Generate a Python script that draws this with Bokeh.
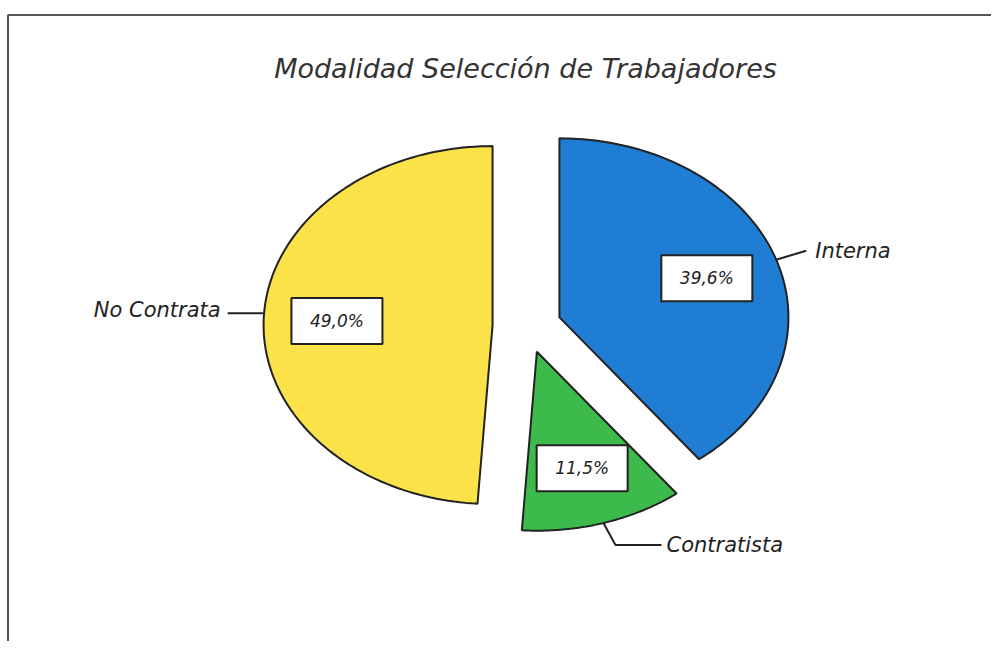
import numpy as np
from bokeh.plotting import figure
from bokeh.models import Range1d
from bokeh.core.properties import value
from bokeh.embed import file_html
from bokeh.resources import INLINE

# ---- data ----
title_text = "Modalidad Selección de Trabajadores"
categories = ["Interna", "Contratista", "No Contrata"]
percents = [39.6, 11.5, 49.0]
pct_labels = ["39,6%", "11,5%", "49,0%"]
colors = ["#1f7dd4", "#3dba4c", "#fbe248"]

# ---- layout constants (pixels) ----
W, H = 991, 641
OX, OY = 0, 0                   # where the figure lands in the picture
PX_X, PX_Y = 229.0, 179.0       # pixels per unit radius (elliptical pie)
CX, CY = 526.4, 325.5           # pie centre in picture pixels
EXPLODE = 0.15
LABEL_R = 0.68

def dx(img_x):
    return (img_x - CX) / PX_X

def dy(img_y):
    return (CY - img_y) / PX_Y

p = figure(width=W, height=H, output_backend="svg", toolbar_location=None,
           x_range=Range1d(dx(OX), dx(OX + W)), y_range=Range1d(dy(OY + H), dy(OY)),
           x_axis_location=None, y_axis_location=None, min_border=0,
           background_fill_color="white", border_fill_color="white")
p.grid.visible = False
p.outline_line_color = None

# frame border (left & top visible in reference)
p.line([dx(7.5), dx(7.5), dx(1200)], [dy(900), dy(14.5), dy(14.5)], line_color="#555555", line_width=2)

# title
p.text([dx(525)], [dy(68)], text=[title_text], text_font=value("DejaVu Sans"),
       text_font_style="italic", text_font_size="27px", text_color="#333333",
       text_align="center", text_baseline="middle")

total = sum(percents)
frac = np.array(percents) / total
ends = np.cumsum(frac) * 2 * np.pi
starts = ends - frac * 2 * np.pi

xs, ys = [], []
lab_x, lab_y = [], []
mids = []
apexes = []
for s, e in zip(starts, ends):
    m = (s + e) / 2
    mids.append(m)
    ax, ay = EXPLODE * np.sin(m), EXPLODE * np.cos(m)
    apexes.append((ax, ay))
    t = np.linspace(s, e, 120)
    xs.append([ax] + list(ax + np.sin(t)) + [ax])
    ys.append([ay] + list(ay + np.cos(t)) + [ay])
    lab_x.append(ax + LABEL_R * np.sin(m))
    lab_y.append(ay + LABEL_R * np.cos(m))

p.patches(xs, ys, fill_color=colors, line_color="#222222", line_width=2)

# percent boxes
p.rect(lab_x, lab_y, width=91, height=46, width_units="screen", height_units="screen",
       fill_color="white", line_color="#222222", line_width=2)
p.text(lab_x, lab_y, text=pct_labels, text_font=value("DejaVu Sans"), text_font_style="italic",
       text_font_size="17px", text_color="#222222", text_align="center", text_baseline="middle")

# leader lines and category labels
edge = [(a[0] + np.sin(m), a[1] + np.cos(m)) for a, m in zip(apexes, mids)]
# Interna: up-right
e0 = edge[0]
l0x = [e0[0], e0[0] + 30 / PX_X]
l0y = [e0[1], e0[1] + 9 / PX_Y]
# Contratista: down then right
e1 = edge[1]
l1x = [e1[0], e1[0] + 12 / PX_X, e1[0] + 58 / PX_X]
l1y = [e1[1], e1[1] - 22 / PX_Y, e1[1] - 22 / PX_Y]
# No Contrata: left
e2 = edge[2]
l2x = [e2[0], e2[0] - 36 / PX_X]
l2y = [e2[1] + 6 / PX_Y, e2[1] + 6 / PX_Y]
p.multi_line([l0x, l1x, l2x], [l0y, l1y, l2y], line_color="#222222", line_width=2)

cat_x = [l0x[-1] + 9 / PX_X, l1x[-1] + 5 / PX_X, l2x[-1] - 7 / PX_X]
cat_y = [l0y[-1], l1y[-1], l2y[-1] + 3 / PX_Y]
p.text(cat_x, cat_y, text=categories, text_font=value("DejaVu Sans"), text_font_style="italic",
       text_font_size="21px", text_color="#222222",
       text_align=["left", "left", "right"], text_baseline="middle")

open("out.html", "w").write(file_html(p, INLINE))
